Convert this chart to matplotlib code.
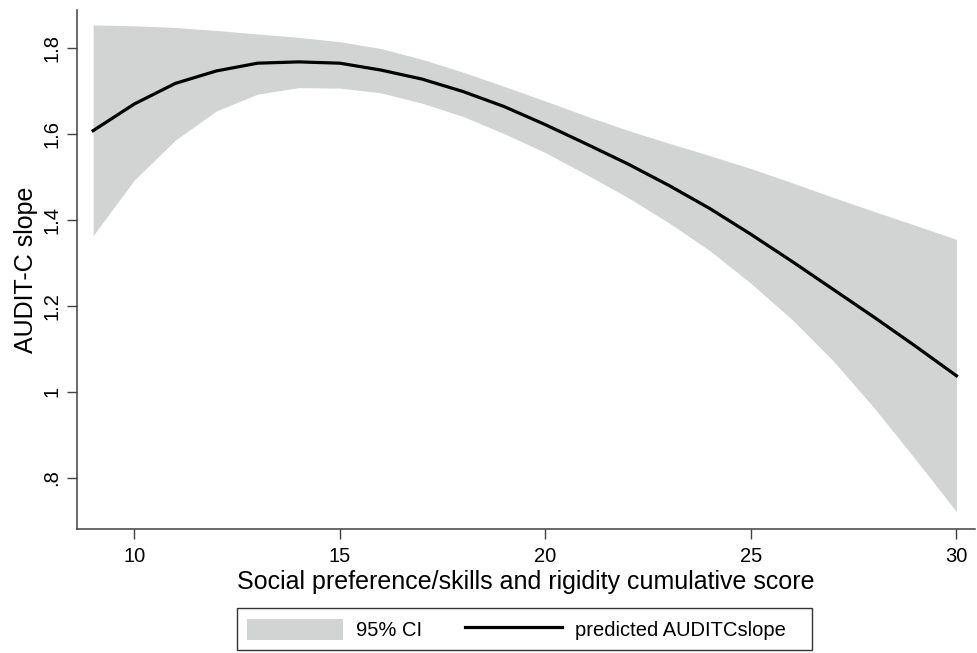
import matplotlib
matplotlib.use("Agg")
import matplotlib.pyplot as plt
from matplotlib.ticker import FuncFormatter

# predicted AUDIT-C slope with 95% CI, by cumulative score
score = list(range(9, 31))
pred = [1.607, 1.669, 1.717, 1.746, 1.764, 1.767, 1.764, 1.748, 1.727, 1.698, 1.663,
        1.621, 1.576, 1.530, 1.480, 1.426, 1.366, 1.303, 1.238, 1.173, 1.106, 1.037]
ci_low = [1.363, 1.492, 1.585, 1.653, 1.692, 1.707, 1.706, 1.695, 1.671, 1.640, 1.600,
          1.556, 1.505, 1.452, 1.393, 1.328, 1.252, 1.168, 1.072, 0.962, 0.843, 0.721]
ci_high = [1.853, 1.851, 1.847, 1.840, 1.832, 1.824, 1.814, 1.798, 1.773, 1.743, 1.710,
           1.676, 1.641, 1.608, 1.578, 1.549, 1.519, 1.486, 1.452, 1.419, 1.387, 1.354]

xticks = [10, 15, 20, 25, 30]
yticks = [0.8, 1.0, 1.2, 1.4, 1.6, 1.8]

plt.rcParams["font.family"] = ["Liberation Sans", "DejaVu Sans"]

fig = plt.figure(figsize=(9.78, 6.53), dpi=100)
ax = fig.add_axes([0.0784, 0.1904, 0.9185, 0.7943])

ax.fill_between(score, ci_low, ci_high, color="#d2d4d3", linewidth=0, label="95% CI")
ax.plot(score, pred, color="black", linewidth=2.3, label="predicted AUDITCslope   ")

ax.set_xlim(8.6, 30.45)
ax.set_ylim(0.6814, 1.8877)
ax.set_xticks(xticks)
ax.set_yticks(yticks)


def stata_fmt(v, pos):
    s = f"{v:g}"
    return s[1:] if s.startswith("0.") else s


ax.yaxis.set_major_formatter(FuncFormatter(stata_fmt))
for lbl in ax.get_yticklabels():
    lbl.set_rotation(90)
    lbl.set_va("center")

ax.tick_params(axis="both", direction="out", length=7.2, width=1.0, color="#404040",
               labelsize=14.5)
ax.tick_params(axis="x", pad=6)
ax.tick_params(axis="y", pad=4)

for side in ["top", "right"]:
    ax.spines[side].set_visible(False)
for side in ["left", "bottom"]:
    ax.spines[side].set_color("#404040")
    ax.spines[side].set_linewidth(1.1)

ax.set_xlabel("Social preference/skills and rigidity cumulative score", fontsize=18, labelpad=3)
ax.set_ylabel("AUDIT-C slope", fontsize=18, labelpad=3)

handles, labels = ax.get_legend_handles_labels()
leg = fig.legend(handles, labels, loc="center", bbox_to_anchor=(0.5363, 0.0364), ncol=2,
                 fontsize=14.5, frameon=True, fancybox=False, edgecolor="black",
                 handlelength=4.8, handleheight=1.25, handletextpad=0.65,
                 columnspacing=2.1, borderpad=0.5)
leg.get_frame().set_linewidth(1.0)

fig.savefig("out.png", dpi=100)
